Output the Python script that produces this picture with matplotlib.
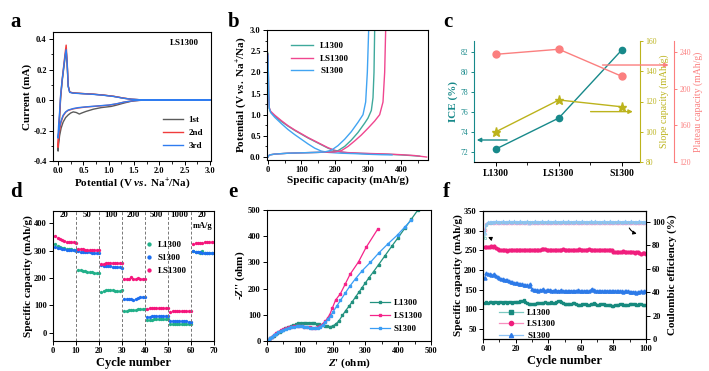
import matplotlib
matplotlib.use("Agg")
import matplotlib.pyplot as plt
from matplotlib.lines import Line2D
from matplotlib.ticker import MultipleLocator

plt.rcParams['font.family'] = ['Liberation Serif', 'DejaVu Serif']
plt.rcParams['font.weight'] = 'bold'
plt.rcParams['axes.labelweight'] = 'bold'
plt.rcParams['mathtext.fontset'] = 'custom'
plt.rcParams['mathtext.rm'] = 'Liberation Serif:bold'
plt.rcParams['mathtext.it'] = 'Liberation Serif:italic:bold'
plt.rcParams['mathtext.bf'] = 'Liberation Serif:bold'

# ---------------- data ----------------
# (a) CV curves of LS1300
cv1_v = [1.80, 1.60, 1.45, 1.30, 1.15, 1.05, 0.95, 0.85, 0.70, 0.55, 0.47, 0.42, 0.36, 0.30, 0.25, 0.20,
         0.15, 0.10, 0.06, 0.03, 0.01, 0.00, 0.01, 0.03, 0.05, 0.08, 0.12, 0.14, 0.16, 0.18, 0.20, 0.23,
         0.30, 0.50, 0.70, 0.90, 1.10, 1.30, 1.45, 1.60, 1.80, 2.20, 2.60, 3.00]
cv1_i = [0.000, -0.002, -0.008, -0.020, -0.034, -0.042, -0.046, -0.050, -0.060, -0.075, -0.085, -0.092,
         -0.082, -0.078, -0.085, -0.098, -0.115, -0.145, -0.185, -0.235, -0.290, -0.335, -0.230, -0.120,
         0.010, 0.120, 0.230, 0.280, 0.325, 0.230, 0.090, 0.052, 0.046, 0.042, 0.038, 0.032, 0.024, 0.012,
         0.005, 0.002, 0.000, 0.000, 0.000, 0.000]
cv2_v = [3.00, 2.50, 2.00, 1.70, 1.50, 1.30, 1.15, 1.00, 0.85, 0.70, 0.55, 0.40, 0.30, 0.20, 0.15, 0.10,
         0.06, 0.03, 0.01, 0.00, 0.01, 0.03, 0.05, 0.08, 0.12, 0.14, 0.16, 0.18, 0.20, 0.23, 0.30, 0.50,
         0.70, 0.90, 1.10, 1.30, 1.45, 1.60, 1.80, 2.20, 2.60, 3.00]
cv2_i = [0.000, 0.000, 0.000, -0.001, -0.004, -0.014, -0.026, -0.034, -0.038, -0.042, -0.046, -0.052,
         -0.058, -0.068, -0.080, -0.105, -0.145, -0.200, -0.260, -0.310, -0.200, -0.100, 0.020, 0.130,
         0.250, 0.310, 0.360, 0.250, 0.095, 0.052, 0.046, 0.042, 0.038, 0.032, 0.024, 0.012, 0.005, 0.002,
         0.000, 0.000, 0.000, 0.000]
cv3_v = [3.00, 2.50, 2.00, 1.70, 1.50, 1.30, 1.15, 1.00, 0.85, 0.70, 0.55, 0.40, 0.30, 0.20, 0.15, 0.10,
         0.06, 0.03, 0.01, 0.00, 0.01, 0.03, 0.05, 0.08, 0.12, 0.14, 0.16, 0.18, 0.20, 0.23, 0.30, 0.50,
         0.70, 0.90, 1.10, 1.30, 1.45, 1.60, 1.80, 2.20, 2.60, 3.00]
cv3_i = [0.000, 0.000, 0.000, -0.001, -0.004, -0.014, -0.025, -0.033, -0.037, -0.041, -0.045, -0.050,
         -0.056, -0.066, -0.078, -0.100, -0.135, -0.175, -0.220, -0.250, -0.170, -0.080, 0.030, 0.130,
         0.240, 0.295, 0.330, 0.240, 0.090, 0.050, 0.045, 0.041, 0.037, 0.031, 0.023, 0.011, 0.005, 0.002,
         0.000, 0.000, 0.000, 0.000]
cv_labels = ['1st', '2nd', '3rd']

# (b) galvanostatic profiles
b_samples = ['L1300', 'LS1300', 'S1300']
dis_L_cap = [0, 1, 2, 4, 8, 20, 40, 60, 80, 100, 120, 140, 160, 180, 200, 220, 240, 280, 320, 360, 400, 430, 455]
dis_L_v = [2.45, 2.00, 1.50, 1.15, 1.06, 0.97, 0.84, 0.73, 0.63, 0.54, 0.45, 0.37, 0.29, 0.21, 0.15, 0.115, 0.10,
           0.085, 0.075, 0.065, 0.05, 0.035, 0.02]
dis_LS_cap = [0, 1, 2, 4, 8, 20, 40, 60, 80, 100, 120, 140, 160, 180, 200, 220, 240, 280, 320, 360, 400, 440, 476]
dis_LS_v = [2.42, 2.00, 1.50, 1.16, 1.08, 0.99, 0.86, 0.74, 0.64, 0.55, 0.46, 0.38, 0.30, 0.22, 0.16, 0.12, 0.105,
            0.09, 0.08, 0.07, 0.055, 0.035, 0.00]
dis_S_cap = [0, 1, 2, 4, 8, 20, 40, 60, 80, 100, 120, 140, 160, 180, 220, 260, 300, 340, 372]
dis_S_v = [2.40, 2.00, 1.50, 1.15, 1.05, 0.94, 0.79, 0.65, 0.53, 0.42, 0.31, 0.21, 0.14, 0.11, 0.09, 0.08, 0.065,
           0.055, 0.05]
chg_L_cap = [0, 2, 5, 20, 60, 100, 150, 190, 210, 230, 250, 270, 290, 300, 310, 315, 318, 320]
chg_L_v = [0.0, 0.03, 0.05, 0.07, 0.09, 0.10, 0.11, 0.12, 0.15, 0.25, 0.40, 0.58, 0.80, 0.92, 1.10, 1.40, 2.00, 3.00]
chg_LS_cap = [0, 2, 5, 20, 60, 100, 150, 200, 220, 240, 260, 280, 300, 320, 335, 345, 350, 353]
chg_LS_v = [0.0, 0.03, 0.05, 0.07, 0.09, 0.10, 0.11, 0.12, 0.15, 0.25, 0.38, 0.52, 0.68, 0.85, 1.00, 1.30, 2.00, 3.00]
chg_S_cap = [0, 2, 5, 20, 60, 100, 150, 170, 190, 210, 230, 250, 270, 285, 293, 298, 302]
chg_S_v = [0.0, 0.03, 0.05, 0.07, 0.09, 0.10, 0.11, 0.12, 0.16, 0.27, 0.42, 0.60, 0.82, 1.00, 1.30, 2.00, 3.00]

# (c) ICE / slope / plateau capacity
c_samples = ['L1300', 'LS1300', 'S1300']
ice = [72.3, 75.4, 82.2]
slope_cap = [100, 121, 116.5]
plateau_cap = [237.5, 243, 213.5]

# (d) rate performance
rate_labels = ['20', '50', '100', '200', '500', '1000', '20']
rate_L1300 = [325, 318, 314, 311, 309, 307, 306, 305, 303, 302,
              230, 228, 226, 225, 223, 222, 221, 220, 219, 218,
              150, 152, 155, 157, 158, 156, 153, 152, 154, 155,
              80, 81, 83, 84, 85, 85, 86, 86, 87, 87,
              47, 48, 48, 49, 49, 50, 50, 50, 50, 50,
              31, 31, 31, 32, 32, 32, 32, 32, 32, 32,
              300, 296, 294, 293, 298, 292, 292, 291, 291, 290]
rate_S1300 = [312, 310, 308, 306, 305, 304, 303, 302, 301, 300,
              298, 297, 296, 295, 294, 294, 293, 293, 292, 292,
              246, 245, 244, 243, 243, 242, 241, 240, 239, 238,
              125, 124, 123, 122, 120, 124, 128, 129, 130, 131,
              57, 59, 60, 61, 61, 62, 62, 63, 63, 62,
              42, 42, 42, 42, 42, 42, 42, 42, 41, 41,
              298, 296, 295, 294, 293, 293, 292, 292, 291, 291]
rate_LS1300 = [355, 348, 342, 338, 335, 333, 331, 330, 330, 329,
               306, 305, 305, 304, 304, 304, 304, 303, 303, 303,
               251, 253, 254, 254, 255, 255, 256, 256, 256, 256,
               197, 198, 197, 203, 198, 196, 199, 198, 197, 196,
               88, 89, 90, 90, 91, 91, 92, 92, 92, 92,
               77, 78, 78, 78, 78, 78, 78, 78, 78, 78,
               326, 327, 328, 328, 329, 330, 331, 332, 332, 332]

# (e) Nyquist plots
eis_L_re = [0, 5, 10, 15, 20, 26, 32, 40, 48, 56, 64, 72, 80, 88, 96, 104, 112, 120, 128, 136, 144, 152, 160,
            168, 176, 184, 192, 200, 210, 220, 230, 240, 250, 260, 270, 280, 290, 300, 310, 325, 340, 360, 380,
            400, 420, 440, 460]
eis_L_im = [0, 5, 10, 15, 20, 25, 30, 36, 42, 48, 53, 57, 61, 64, 67, 69, 70, 70, 70, 69, 68, 66, 64,
            61, 58, 56, 55, 57, 65, 78, 98, 116, 133, 150, 168, 186, 204, 222, 240, 265, 291, 326, 361,
            395, 430, 465, 500]
eis_LS_re = [0, 5, 10, 16, 22, 28, 35, 42, 50, 58, 66, 74, 82, 90, 98, 106, 114, 122, 130, 138, 146, 154, 162,
             170, 178, 185, 191, 199, 209, 224, 238, 253, 279, 302, 338]
eis_LS_im = [0, 5, 10, 17, 24, 30, 36, 41, 46, 50, 53, 55, 57, 57, 57, 56, 55, 54, 52, 51, 51, 53, 58,
             66, 76, 88, 100, 125, 156, 181, 216, 254, 302, 357, 428]
eis_S_re = [0, 5, 10, 16, 22, 28, 35, 42, 50, 58, 66, 74, 82, 90, 98, 106, 114, 122, 130, 138, 146, 154, 162,
            170, 178, 186, 194, 202, 212, 224, 238, 253, 270, 290, 315, 340, 368, 398, 420, 440]
eis_S_im = [0, 5, 10, 16, 22, 28, 33, 38, 43, 47, 51, 53, 55, 56, 56, 56, 55, 53, 51, 49, 48, 50, 55,
            62, 72, 84, 97, 112, 132, 155, 182, 210, 238, 268, 300, 335, 370, 405, 435, 462]

# (f) cycling at high rate
cyc_L1300 = [116, 118, 117, 118, 119, 117, 118, 118, 117, 119,
             118, 117, 118, 119, 117, 118, 118, 117, 118, 119,
             120, 119, 121, 122, 123, 118, 116, 115, 114, 115,
             114, 115, 116, 116, 117, 116, 117, 118, 117, 116,
             117, 118, 116, 117, 118, 122, 121, 118, 116, 115,
             114, 113, 113, 114, 116, 117, 114, 112, 111, 111,
             113, 114, 113, 112, 112, 113, 115, 116, 114, 112,
             112, 113, 113, 114, 112, 111, 112, 111, 110, 110,
             111, 112, 112, 113, 113, 112, 111, 111, 112, 113,
             113, 114, 113, 112, 112, 114, 113, 112, 111, 111]
cyc_LS1300 = [258, 259, 258, 259, 260, 259, 261, 256, 254, 252,
              250, 251, 250, 250, 249, 250, 251, 250, 250, 251,
              251, 252, 252, 251, 250, 251, 252, 251, 250, 250,
              251, 250, 251, 252, 252, 253, 254, 253, 251, 250,
              250, 250, 250, 251, 250, 250, 251, 252, 253, 252,
              251, 250, 250, 251, 250, 250, 251, 252, 253, 252,
              251, 250, 251, 252, 253, 252, 251, 250, 251, 250,
              250, 251, 252, 251, 252, 250, 251, 252, 250, 247,
              246, 247, 247, 246, 247, 248, 247, 246, 246, 245,
              245, 246, 244, 245, 246, 244, 242, 243, 244, 242]
cyc_S1300 = [180, 192, 190, 189, 188, 187, 190, 186, 182, 180,
             178, 177, 176, 175, 174, 173, 170, 169, 168, 167,
             166, 165, 165, 164, 163, 162, 161, 160, 165, 152,
             150, 149, 149, 148, 149, 150, 152, 148, 149, 150,
             149, 148, 148, 149, 148, 147, 148, 149, 148, 147,
             148, 147, 148, 148, 147, 147, 148, 149, 148, 147,
             146, 147, 148, 147, 146, 149, 153, 150, 148, 147,
             147, 148, 147, 146, 147, 148, 147, 146, 147, 148,
             147, 146, 146, 147, 146, 145, 146, 147, 146, 145,
             144, 145, 144, 143, 144, 145, 146, 145, 146, 147]
ce_L1300 = [86.0, 97.8, 98.9, 99.3, 99.5, 99.6, 99.6, 99.7, 99.7, 99.8,
            99.7, 99.8, 99.6, 99.9, 99.8, 99.7, 99.8, 99.9, 99.7, 99.8,
            99.8, 99.7, 99.9, 99.8, 99.6, 99.8, 99.9, 99.7, 99.8, 99.8,
            99.7, 99.9, 99.8, 99.8, 99.7, 99.9, 99.8, 99.7, 99.8, 99.9,
            99.8, 99.7, 99.8, 99.9, 99.8, 99.6, 99.8, 99.9, 99.8, 99.7,
            99.8, 99.9, 99.8, 99.7, 99.8, 99.8, 99.9, 99.7, 99.8, 99.8,
            99.7, 99.8, 99.9, 99.8, 99.7, 99.8, 99.6, 99.8, 99.9, 99.8,
            99.8, 99.7, 99.8, 99.9, 99.8, 99.7, 99.8, 99.8, 99.9, 99.7,
            99.8, 99.9, 99.8, 99.7, 99.8, 99.8, 99.7, 99.9, 99.8, 99.8,
            99.7, 99.8, 99.9, 99.8, 99.7, 99.8, 99.8, 99.9, 99.8, 99.7]
ce_LS1300 = [93.5, 98.0, 98.8, 99.0, 99.1, 99.2, 99.2, 99.3, 99.2, 99.3,
             99.2, 99.3, 99.2, 99.1, 99.3, 99.2, 99.3, 99.2, 99.2, 99.3,
             99.2, 99.3, 99.2, 99.3, 99.2, 99.1, 99.3, 99.2, 99.2, 99.3,
             99.2, 99.3, 99.2, 99.3, 99.2, 99.2, 99.3, 99.2, 99.1, 99.3,
             99.2, 99.3, 99.2, 99.2, 99.3, 99.2, 99.3, 99.2, 99.2, 99.3,
             99.2, 99.1, 99.3, 99.2, 99.2, 99.3, 99.2, 99.3, 99.2, 99.2,
             99.3, 99.2, 99.2, 99.3, 99.2, 99.3, 99.1, 99.2, 99.3, 99.2,
             99.2, 99.3, 99.2, 99.2, 99.3, 99.2, 99.3, 99.2, 99.2, 99.3,
             99.2, 99.3, 99.2, 99.1, 99.2, 99.3, 99.2, 99.3, 99.2, 99.2,
             99.3, 99.2, 99.2, 99.3, 99.2, 99.3, 99.2, 99.2, 99.3, 99.2]
ce_S1300 = [90.8, 98.5, 99.6, 100.1, 100.3, 100.4, 100.3, 100.5, 100.4, 100.3,
            100.4, 100.5, 100.3, 100.4, 100.4, 100.5, 100.3, 100.4, 100.5, 100.4,
            100.3, 100.4, 100.5, 100.4, 100.3, 100.4, 100.5, 99.2, 100.4, 100.3,
            100.4, 100.5, 100.4, 100.3, 100.4, 100.5, 100.3, 100.4, 100.4, 100.5,
            100.4, 100.3, 100.4, 100.5, 100.4, 100.3, 100.4, 100.4, 100.5, 100.3,
            100.4, 100.5, 100.4, 100.3, 100.4, 100.4, 100.5, 100.3, 100.4, 100.4,
            100.5, 100.4, 100.3, 100.4, 100.4, 100.5, 100.3, 100.4, 100.5, 100.4,
            100.3, 100.4, 100.4, 100.5, 100.4, 100.3, 100.4, 100.5, 100.4, 100.3,
            100.4, 100.4, 100.5, 100.3, 100.4, 100.4, 100.5, 100.4, 100.3, 100.4,
            100.5, 100.4, 100.3, 100.4, 100.4, 100.5, 100.4, 100.3, 100.4, 100.4]

# ---------------- figure ----------------
fig = plt.figure(figsize=(7.09, 3.71), dpi=100)
W, H = 709.0, 371.0


def add_ax(l, r, t, b):
    return fig.add_axes([l / W, 1 - b / H, (r - l) / W, (b - t) / H])


def style(ax, ls=6):
    for sp in ax.spines.values():
        sp.set_linewidth(0.8)
    ax.tick_params(which='major', direction='out', length=3, width=0.7, labelsize=ls, pad=1.5)
    ax.tick_params(which='minor', direction='out', length=1.8, width=0.6)


LBL = 8
letter_kw = dict(fontsize=15, fontweight='bold', ha='left', va='center')

# ---- (a) ----
axa = add_ax(53, 211, 32, 161)
cols_a = ['#5b5b5b', '#f03c3c', '#2f7cf0']
for v, i, c, l in zip([cv1_v, cv2_v, cv3_v], [cv1_i, cv2_i, cv3_i], cols_a, cv_labels):
    axa.plot(v, i, color=c, lw=1.0, label=l)
axa.set_xlim(-0.1, 3.02)
axa.set_ylim(-0.4, 0.446)
axa.xaxis.set_major_locator(MultipleLocator(0.5))
axa.xaxis.set_minor_locator(MultipleLocator(0.25))
axa.yaxis.set_major_locator(MultipleLocator(0.2))
axa.yaxis.set_minor_locator(MultipleLocator(0.1))
axa.xaxis.set_major_formatter(matplotlib.ticker.FormatStrFormatter('%.1f'))
axa.yaxis.set_major_formatter(matplotlib.ticker.FormatStrFormatter('%.1f'))
style(axa)
axa.set_xlabel(r'Potential (V $\mathit{vs.}$ Na$^{+}$/Na)', fontsize=LBL, labelpad=1)
axa.set_ylabel('Current (mA)', fontsize=LBL, labelpad=1)
axa.text(0.83, 0.915, 'LS1300', transform=axa.transAxes, fontsize=6.5, ha='center', va='center')
axa.legend(loc='lower right', bbox_to_anchor=(1.0, 0.02), frameon=False, fontsize=6.5,
           handlelength=2.2, handletextpad=0.6, labelspacing=0.55)
fig.text(10 / W, 1 - 22 / H, 'a', **letter_kw)

# ---- (b) ----
axb = add_ax(267, 428, 30, 160)
cols_b = ['#3fa99c', '#f0468f', '#41a4f2']
axb.plot(dis_L_cap, dis_L_v, color=cols_b[0], lw=1.0, label=b_samples[0])
axb.plot(dis_LS_cap, dis_LS_v, color=cols_b[1], lw=1.0, label=b_samples[1])
axb.plot(dis_S_cap, dis_S_v, color=cols_b[2], lw=1.0, label=b_samples[2])
axb.plot(chg_L_cap, chg_L_v, color=cols_b[0], lw=1.0)
axb.plot(chg_LS_cap, chg_LS_v, color=cols_b[1], lw=1.0)
axb.plot(chg_S_cap, chg_S_v, color=cols_b[2], lw=1.0)
axb.set_xlim(-3, 480)
axb.set_ylim(-0.07, 3.0)
axb.xaxis.set_major_locator(MultipleLocator(100))
axb.xaxis.set_minor_locator(MultipleLocator(50))
axb.yaxis.set_major_locator(MultipleLocator(0.5))
axb.yaxis.set_minor_locator(MultipleLocator(0.25))
axb.yaxis.set_major_formatter(matplotlib.ticker.FormatStrFormatter('%.1f'))
style(axb)
axb.set_xlabel('Specific capacity (mAh/g)', fontsize=LBL, labelpad=1)
axb.set_ylabel(r'Potential (V $\mathit{vs.}$ Na$^{+}$/Na)', fontsize=LBL, labelpad=1)
axb.legend(loc='upper left', bbox_to_anchor=(0.1, 0.97), frameon=False, fontsize=6.5,
           handlelength=2.4, handletextpad=0.8, labelspacing=0.45)
fig.text(228 / W, 1 - 22 / H, 'b', **letter_kw)

# ---- (c) ----
col_ice, col_slope, col_plat = '#17898a', '#bcb31c', '#fb7f7f'
axc = add_ax(474, 640, 41, 162)
xc = [0, 1, 2]
axc.plot(xc, ice, color=col_ice, lw=1.0, marker='o', ms=4.5)
axc.set_xlim(-0.35, 2.29)
axc.set_ylim(71, 83.1)
axc.set_xticks(xc)
axc.set_xticklabels(c_samples, fontsize=7, fontweight='bold')
axc.xaxis.set_minor_locator(MultipleLocator(0.5))
axc.yaxis.set_major_locator(MultipleLocator(2))
axc.spines['top'].set_visible(False)
axc.spines['right'].set_visible(False)
for sp in axc.spines.values():
    sp.set_linewidth(0.8)
axc.spines['left'].set_color(col_ice)
axc.tick_params(axis='x', which='major', direction='out', length=3, width=0.7, pad=2)
axc.tick_params(axis='x', which='minor', direction='out', length=2, width=0.6)
axc.tick_params(axis='y', direction='out', length=2.5, width=0.7, colors=col_ice, labelsize=5.5, pad=1.5)
for t in axc.get_yticklabels():
    t.set_fontweight('normal')
axc.set_ylabel('ICE (%)', color=col_ice, fontsize=LBL, labelpad=2)
axc.annotate('', xy=(-0.35, 73.2), xytext=(0.22, 73.2),
             arrowprops=dict(arrowstyle='-|>', color=col_ice, lw=1.0, mutation_scale=6),
             annotation_clip=False)

axc2 = axc.twinx()
axc2.plot(xc, slope_cap, color=col_slope, lw=1.0, marker='*', ms=6.5)
axc2.set_ylim(80, 160)
axc2.yaxis.set_major_locator(MultipleLocator(20))
for k in ['top', 'left', 'bottom']:
    axc2.spines[k].set_visible(False)
axc2.spines['right'].set_color(col_slope)
axc2.spines['right'].set_linewidth(0.8)
axc2.tick_params(axis='y', direction='out', length=2.5, width=0.7, colors=col_slope, labelsize=5.5, pad=1.5)
for t in axc2.get_yticklabels():
    t.set_fontweight('normal')
axc2.set_ylabel('Slope capacity (mAh/g)', color=col_slope, fontsize=7, labelpad=2, fontweight='normal')
axc2.annotate('', xy=(2.22, 113.3), xytext=(1.46, 113.3),
              arrowprops=dict(arrowstyle='-|>', color=col_slope, lw=1.0, mutation_scale=6),
              annotation_clip=False)

axc3 = axc.twinx()
axc3.spines['right'].set_position(('axes', 1 + 34 / 166))
axc3.plot(xc, plateau_cap, color=col_plat, lw=1.0, marker='o', ms=5)
axc3.set_ylim(120, 252)
axc3.yaxis.set_major_locator(MultipleLocator(40))
for k in ['top', 'left', 'bottom']:
    axc3.spines[k].set_visible(False)
axc3.spines['right'].set_color(col_plat)
axc3.spines['right'].set_linewidth(0.8)
axc3.tick_params(axis='y', direction='out', length=2.5, width=0.7, colors=col_plat, labelsize=5.5, pad=1.5)
for t in axc3.get_yticklabels():
    t.set_fontweight('normal')
axc3.set_ylabel('Plateau capacity (mAh/g)', color=col_plat, fontsize=7, labelpad=2, fontweight='normal')
axc3.annotate('', xy=(2.79, 225.8), xytext=(1.65, 225.8),
              arrowprops=dict(arrowstyle='-|>', color=col_plat, lw=1.0, mutation_scale=6),
              annotation_clip=False)
fig.text(443 / W, 1 - 22 / H, 'c', **letter_kw)

# ---- (d) ----
axd = add_ax(53, 214, 211, 341)
cyc_d = list(range(1, len(rate_L1300) + 1))
axd.plot(cyc_d, rate_L1300, 'o', color='#21b089', ms=2.4, mec='none', label='L1300')
axd.plot(cyc_d, rate_S1300, 'o', color='#1d6ff0', ms=2.4, mec='none', label='S1300')
axd.plot(cyc_d, rate_LS1300, 'o', color='#f5167c', ms=2.4, mec='none', label='LS1300')
for xv in [10, 20, 30, 40, 50, 60]:
    axd.axvline(xv, color='#777777', lw=0.7, ls=(0, (3, 2)))
for k, lab in enumerate(rate_labels):
    axd.text(5 + 10 * k, 430, lab, fontsize=6.3, ha='center', va='center')
axd.text(65, 392, 'mA/g', fontsize=6, ha='center', va='center')
axd.set_xlim(0, 70)
axd.set_ylim(-30, 445)
axd.xaxis.set_major_locator(MultipleLocator(10))
axd.yaxis.set_major_locator(MultipleLocator(100))
style(axd)
axd.set_xlabel('Cycle number', fontsize=9, labelpad=1)
axd.set_ylabel('Specific capacity (mAh/g)', fontsize=LBL, labelpad=1)
axd.legend(loc='center left', bbox_to_anchor=(0.52, 0.64), frameon=False, fontsize=6.5,
           handlelength=1.0, handletextpad=0.4, labelspacing=0.5, markerscale=1.3)
fig.text(10 / W, 1 - 192 / H, 'd', **letter_kw)

# ---- (e) ----
axe = add_ax(267, 431, 210, 341)
axe.plot(eis_L_re, eis_L_im, '-s', color='#22917f', ms=2.0, lw=0.9, label='L1300')
axe.plot(eis_LS_re, eis_LS_im, '-s', color='#f5248a', ms=2.0, lw=0.9, label='LS1300')
axe.plot(eis_S_re, eis_S_im, '-s', color='#3a9df5', ms=2.0, lw=0.9, label='S1300')
axe.set_xlim(0, 500)
axe.set_ylim(0, 500)
axe.xaxis.set_major_locator(MultipleLocator(100))
axe.xaxis.set_minor_locator(MultipleLocator(50))
axe.yaxis.set_major_locator(MultipleLocator(100))
style(axe)
axe.set_xlabel(r"$\mathit{Z}$' (ohm)", fontsize=LBL, labelpad=1)
axe.set_ylabel(r"-$\mathit{Z}$'' (ohm)", fontsize=LBL, labelpad=1)
axe.legend(loc='lower right', bbox_to_anchor=(1.0, 0.0), frameon=False, fontsize=6.5,
           handlelength=2.2, handletextpad=0.4, labelspacing=0.5)
fig.text(228 / W, 1 - 192 / H, 'e', **letter_kw)

# ---- (f) ----
axf = add_ax(483, 646, 211, 339)
cyc_f = list(range(1, len(cyc_L1300) + 1))
cf = ['#178a7e', '#f01e7d', '#2d7ae8']
cl = ['#7cc8c0', '#f78fbf', '#8fc3f5']
axf.plot(cyc_f, cyc_L1300, '-s', color=cf[0], ms=2.0, lw=0.7)
axf.plot(cyc_f, cyc_LS1300, '-o', color=cf[1], ms=2.0, lw=0.7)
axf.plot(cyc_f, cyc_S1300, '-^', color=cf[2], ms=2.2, lw=0.7)
axf.set_xlim(0, 100)
axf.set_ylim(25, 350)
axf.xaxis.set_major_locator(MultipleLocator(20))
axf.xaxis.set_minor_locator(MultipleLocator(10))
axf.yaxis.set_major_locator(MultipleLocator(50))
style(axf)
axf.set_xlabel('Cycle number', fontsize=9, labelpad=1)
axf.set_ylabel('Specific capacity (mAh/g)', fontsize=LBL, labelpad=1)
axf2 = axf.twinx()
axf2.plot(cyc_f, ce_LS1300, '-o', color=cl[1], ms=2.0, lw=0.7, mfc='none', mew=0.5)
axf2.plot(cyc_f, ce_L1300, '-s', color=cl[0], ms=2.0, lw=0.7, mfc='none', mew=0.5)
axf2.plot(cyc_f, ce_S1300, '-^', color=cl[2], ms=2.2, lw=0.7, mfc='none', mew=0.5)
axf2.set_ylim(0, 109.4)
axf2.yaxis.set_major_locator(MultipleLocator(20))
style(axf2)
axf2.set_ylabel('Coulombic efficiency (%)', fontsize=LBL, labelpad=2)
axf.annotate('', xy=(1.5, 286), xytext=(6, 270),
             arrowprops=dict(arrowstyle='-|>', color='black', lw=0.8, mutation_scale=5,
                             connectionstyle='arc3,rad=0.3'))
axf2.annotate('', xy=(96, 89.5), xytext=(89, 97),
              arrowprops=dict(arrowstyle='-|>', color='black', lw=0.8, mutation_scale=5,
                              connectionstyle='arc3,rad=0.3'))
handles = [Line2D([], [], color=cl[0], marker='s', mfc=cf[0], mec=cf[0], ms=3, lw=0.9),
           Line2D([], [], color=cl[1], marker='o', mfc=cf[1], mec=cf[1], ms=3, lw=0.9),
           Line2D([], [], color=cl[2], marker='^', mfc=cf[2], mec=cf[2], ms=3, lw=0.9)]
axf.legend(handles, ['L1300', 'LS1300', 'S1300'], loc='lower left', bbox_to_anchor=(0.05, -0.07),
           frameon=False, fontsize=6.5, handlelength=2.6, handletextpad=0.5, labelspacing=0.35)
fig.text(443 / W, 1 - 192 / H, 'f', **letter_kw)

fig.savefig('out.png', dpi=100)
